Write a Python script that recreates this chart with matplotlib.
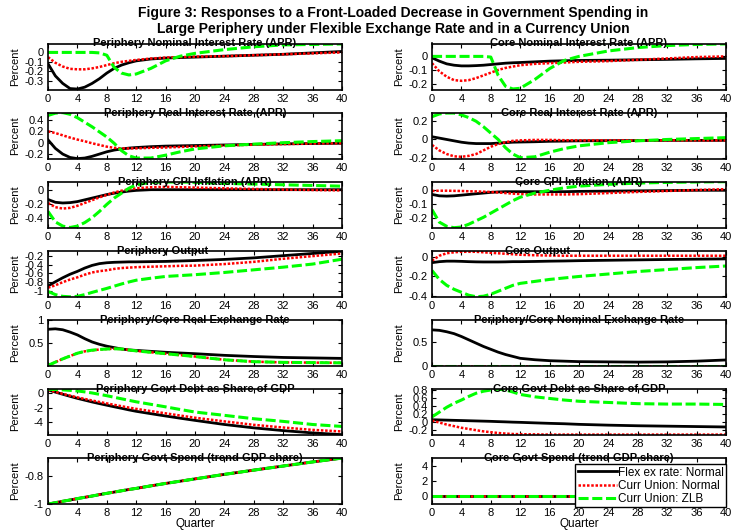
import matplotlib
matplotlib.use("Agg")
import matplotlib.pyplot as plt
from matplotlib.ticker import FuncFormatter

plt.rcParams['font.family'] = ['Liberation Sans', 'DejaVu Sans']
plt.rcParams['axes.unicode_minus'] = False

quarters = [0, 1, 2, 3, 4, 5, 6, 7, 8, 9, 10, 11, 12, 14, 16, 18, 20, 24, 28, 32, 36, 40]

# Periphery nominal interest rate
per_nom_flex = [-0.12, -0.25, -0.33, -0.385, -0.39, -0.37, -0.33, -0.28, -0.22, -0.17, -0.135, -0.11, -0.09, -0.07, -0.06, -0.055, -0.05, -0.04, -0.03, -0.02, -0.005, 0.01]
per_nom_cu = [-0.05, -0.11, -0.15, -0.175, -0.18, -0.18, -0.17, -0.155, -0.135, -0.115, -0.1, -0.09, -0.08, -0.065, -0.055, -0.05, -0.045, -0.04, -0.03, -0.02, -0.01, 0.0]
per_nom_zlb = [0, 0, 0, 0, 0, 0, 0, -0.005, -0.03, -0.16, -0.22, -0.24, -0.23, -0.17, -0.09, -0.04, -0.01, 0.03, 0.06, 0.08, 0.085, 0.09]

# Core nominal interest rate
core_nom_flex = [-0.01, -0.035, -0.055, -0.065, -0.07, -0.07, -0.068, -0.065, -0.06, -0.055, -0.05, -0.047, -0.045, -0.04, -0.035, -0.032, -0.03, -0.028, -0.025, -0.022, -0.018, -0.015]
core_nom_cu = [-0.05, -0.11, -0.15, -0.175, -0.18, -0.175, -0.16, -0.14, -0.12, -0.1, -0.085, -0.075, -0.065, -0.055, -0.05, -0.045, -0.04, -0.035, -0.025, -0.015, -0.005, 0.0]
core_nom_zlb = [0, 0, 0, 0, 0, 0, 0, 0, -0.005, -0.14, -0.22, -0.24, -0.235, -0.17, -0.09, -0.03, 0.0, 0.04, 0.065, 0.08, 0.088, 0.092]

# Periphery real interest rate
per_real_flex = [0.05, -0.1, -0.2, -0.26, -0.28, -0.27, -0.24, -0.2, -0.16, -0.13, -0.11, -0.095, -0.085, -0.07, -0.06, -0.055, -0.05, -0.04, -0.03, -0.02, -0.015, -0.01]
per_real_cu = [0.2, 0.17, 0.13, 0.09, 0.055, 0.025, -0.01, -0.04, -0.07, -0.09, -0.1, -0.1, -0.1, -0.09, -0.085, -0.075, -0.065, -0.05, -0.035, -0.025, -0.015, -0.01]
per_real_zlb = [0.48, 0.52, 0.53, 0.5, 0.44, 0.36, 0.28, 0.19, 0.1, -0.01, -0.14, -0.23, -0.27, -0.27, -0.22, -0.16, -0.11, -0.055, -0.025, 0.0, 0.02, 0.035]

# Core real interest rate
core_real_flex = [0.03, 0.015, 0.0, -0.015, -0.03, -0.04, -0.045, -0.045, -0.045, -0.04, -0.035, -0.03, -0.028, -0.025, -0.02, -0.018, -0.015, -0.013, -0.012, -0.01, -0.01, -0.01]
core_real_cu = [-0.06, -0.12, -0.16, -0.185, -0.19, -0.18, -0.16, -0.12, -0.08, -0.05, -0.03, -0.015, -0.01, -0.005, -0.005, -0.008, -0.01, -0.01, -0.01, -0.01, -0.01, -0.01]
core_real_zlb = [0.25, 0.28, 0.29, 0.29, 0.27, 0.24, 0.2, 0.14, 0.07, 0.0, -0.09, -0.16, -0.2, -0.19, -0.14, -0.1, -0.07, -0.035, -0.015, 0.0, 0.01, 0.02]

# Periphery CPI inflation
per_cpi_flex = [-0.13, -0.17, -0.18, -0.175, -0.16, -0.135, -0.11, -0.085, -0.06, -0.04, -0.025, -0.01, 0.0, 0.01, 0.01, 0.01, 0.01, 0.01, 0.01, 0.01, 0.01, 0.01]
per_cpi_cu = [-0.18, -0.24, -0.26, -0.25, -0.22, -0.18, -0.14, -0.1, -0.065, -0.03, -0.005, 0.015, 0.03, 0.045, 0.05, 0.045, 0.04, 0.03, 0.02, 0.012, 0.005, 0.0]
per_cpi_zlb = [-0.3, -0.45, -0.51, -0.53, -0.51, -0.46, -0.39, -0.3, -0.2, -0.11, -0.04, 0.03, 0.08, 0.115, 0.12, 0.12, 0.115, 0.1, 0.09, 0.08, 0.07, 0.06]

# Core CPI inflation
core_cpi_flex = [-0.03, -0.04, -0.042, -0.04, -0.035, -0.03, -0.025, -0.02, -0.015, -0.012, -0.01, -0.01, -0.01, -0.01, -0.01, -0.01, -0.008, -0.006, -0.004, -0.002, 0.0, 0.0]
core_cpi_cu = [-0.005, -0.003, -0.003, -0.004, -0.005, -0.007, -0.008, -0.01, -0.012, -0.016, -0.02, -0.024, -0.027, -0.03, -0.03, -0.03, -0.028, -0.02, -0.012, -0.005, 0.002, 0.008]
core_cpi_zlb = [-0.14, -0.23, -0.26, -0.27, -0.265, -0.245, -0.22, -0.195, -0.165, -0.135, -0.105, -0.075, -0.05, -0.02, 0.0, 0.018, 0.03, 0.043, 0.052, 0.057, 0.06, 0.062]

# Periphery output
per_out_flex = [-0.885, -0.79, -0.7, -0.62, -0.555, -0.48, -0.42, -0.38, -0.36, -0.35, -0.345, -0.34, -0.34, -0.335, -0.33, -0.32, -0.31, -0.285, -0.25, -0.2, -0.15, -0.1]
per_out_cu = [-0.925, -0.87, -0.8, -0.74, -0.69, -0.63, -0.58, -0.55, -0.53, -0.5, -0.48, -0.47, -0.46, -0.45, -0.44, -0.43, -0.425, -0.39, -0.34, -0.27, -0.21, -0.15]
per_out_zlb = [-1.01, -1.08, -1.12, -1.13, -1.12, -1.08, -1.03, -0.985, -0.94, -0.89, -0.84, -0.795, -0.755, -0.71, -0.67, -0.65, -0.63, -0.58, -0.52, -0.46, -0.39, -0.28]

# Core output
core_out_flex = [-0.06, -0.05, -0.045, -0.045, -0.047, -0.05, -0.052, -0.053, -0.053, -0.053, -0.052, -0.05, -0.05, -0.048, -0.045, -0.043, -0.04, -0.036, -0.032, -0.028, -0.025, -0.022]
core_out_cu = [-0.04, 0.01, 0.035, 0.045, 0.05, 0.05, 0.05, 0.045, 0.04, 0.035, 0.03, 0.025, 0.02, 0.015, 0.012, 0.01, 0.01, 0.01, 0.01, 0.01, 0.01, 0.01]
core_out_zlb = [-0.14, -0.23, -0.29, -0.33, -0.36, -0.39, -0.405, -0.4, -0.38, -0.35, -0.32, -0.29, -0.27, -0.25, -0.23, -0.215, -0.2, -0.175, -0.15, -0.13, -0.11, -0.094]

# Periphery/Core real exchange rate
rer_flex = [0.8, 0.81, 0.79, 0.74, 0.68, 0.6, 0.53, 0.48, 0.44, 0.41, 0.38, 0.36, 0.35, 0.33, 0.31, 0.295, 0.28, 0.245, 0.22, 0.2, 0.19, 0.18]
rer_cu = [0.03, 0.1, 0.17, 0.23, 0.29, 0.33, 0.35, 0.37, 0.38, 0.385, 0.38, 0.36, 0.34, 0.31, 0.28, 0.25, 0.22, 0.15, 0.11, 0.095, 0.09, 0.085]
rer_zlb = [0.03, 0.1, 0.17, 0.23, 0.29, 0.33, 0.355, 0.37, 0.38, 0.385, 0.38, 0.36, 0.34, 0.31, 0.28, 0.25, 0.22, 0.15, 0.11, 0.095, 0.09, 0.085]

# Periphery/Core nominal exchange rate
ner_flex = [0.76, 0.75, 0.72, 0.68, 0.62, 0.55, 0.48, 0.41, 0.35, 0.29, 0.24, 0.2, 0.16, 0.13, 0.11, 0.1, 0.09, 0.085, 0.08, 0.085, 0.1, 0.125]
ner_cu = [0] * 22
ner_zlb = [0] * 22

# Periphery govt debt as share of GDP
per_debt_flex = [0.47, 0.17, -0.13, -0.42, -0.7, -0.95, -1.2, -1.43, -1.65, -1.87, -2.08, -2.3, -2.5, -2.83, -3.15, -3.46, -3.76, -4.33, -4.8, -5.18, -5.5, -5.74]
per_debt_cu = [0.47, 0.2, -0.07, -0.32, -0.56, -0.78, -1.0, -1.2, -1.4, -1.6, -1.79, -1.98, -2.16, -2.47, -2.78, -3.09, -3.39, -3.9, -4.38, -4.75, -5.08, -5.3]
per_debt_zlb = [0.56, 0.53, 0.48, 0.41, 0.33, 0.2, 0.05, -0.14, -0.33, -0.55, -0.76, -0.97, -1.18, -1.53, -1.88, -2.25, -2.6, -3.06, -3.53, -3.9, -4.33, -4.6]

# Core govt debt as share of GDP
core_debt_flex = [0.06, 0.055, 0.05, 0.045, 0.04, 0.035, 0.03, 0.025, 0.02, 0.013, 0.007, 0.0, -0.005, -0.018, -0.03, -0.04, -0.055, -0.075, -0.09, -0.1, -0.11, -0.12]
core_debt_cu = [0.04, -0.01, -0.06, -0.1, -0.14, -0.17, -0.2, -0.23, -0.25, -0.27, -0.285, -0.295, -0.3, -0.305, -0.31, -0.31, -0.31, -0.31, -0.31, -0.31, -0.31, -0.31]
core_debt_zlb = [0.13, 0.25, 0.37, 0.47, 0.55, 0.64, 0.72, 0.77, 0.8, 0.82, 0.8, 0.75, 0.69, 0.63, 0.59, 0.55, 0.52, 0.49, 0.46, 0.45, 0.45, 0.44]

# Govt spending (identical across regimes)
per_g = [-1.0, -0.99, -0.98, -0.971, -0.961, -0.952, -0.943, -0.933, -0.924, -0.915, -0.906, -0.897, -0.889, -0.871, -0.854, -0.838, -0.822, -0.79, -0.76, -0.731, -0.702, -0.675]
core_g = [0] * 22

# title, flex, curr union, zlb, ylim, yticks, title x-position
panels = [
    ("Periphery Nominal Interest Rate (APR)", per_nom_flex, per_nom_cu, per_nom_zlb, (-0.395, 0.095), [-0.3, -0.2, -0.1, 0], 0.5),
    ("Core Nominal Interest Rate (APR)", core_nom_flex, core_nom_cu, core_nom_zlb, (-0.244, 0.095), [-0.2, -0.1, 0], 0.5),
    ("Periphery Real Interest Rate (APR)", per_real_flex, per_real_cu, per_real_zlb, (-0.28, 0.53), [-0.2, 0, 0.2, 0.4], 0.5),
    ("Core Real Interest Rate (APR)", core_real_flex, core_real_cu, core_real_zlb, (-0.21, 0.295), [-0.2, 0, 0.2], 0.5),
    ("Periphery CPI Inflation (APR)", per_cpi_flex, per_cpi_cu, per_cpi_zlb, (-0.533, 0.124), [-0.4, -0.2, 0], 0.5),
    ("Core CPI Inflation (APR)", core_cpi_flex, core_cpi_cu, core_cpi_zlb, (-0.27, 0.062), [-0.2, -0.1, 0], 0.5),
    ("Periphery Output", per_out_flex, per_out_cu, per_out_zlb, (-1.13, -0.09), [-1, -0.8, -0.6, -0.4, -0.2], 0.39),
    ("Core Output", core_out_flex, core_out_cu, core_out_zlb, (-0.406, 0.06), [-0.4, -0.2, 0], 0.36),
    ("Periphery/Core Real Exchange Rate", rer_flex, rer_cu, rer_zlb, (0.02, 1.0), [0.5, 1], 0.5),
    ("Periphery/Core Nominal Exchange Rate", ner_flex, ner_cu, ner_zlb, (0, 0.97), [0, 0.5], 0.5),
    ("Periphery Govt Debt as Share of GDP", per_debt_flex, per_debt_cu, per_debt_zlb, (-5.79, 0.6), [-4, -2, 0], 0.5),
    ("Core Govt Debt as Share of GDP", core_debt_flex, core_debt_cu, core_debt_zlb, (-0.32, 0.825), [-0.2, 0, 0.2, 0.4, 0.6, 0.8], 0.5),
    ("Periphery Govt Spend (trend GDP share)", per_g, per_g, per_g, (-1.0, -0.675), [-1, -0.8], 0.5),
    ("Core Govt Spend (trend GDP share)", core_g, core_g, core_g, (-1, 5), [0, 2, 4], 0.5),
]

W, H = 735, 530
fig = plt.figure(figsize=(W / 100, H / 100), dpi=100)
fig.patch.set_facecolor('white')

fig.text(0.535, 1 - 21 / H,
         "Figure 3: Responses to a Front-Loaded Decrease in Government Spending in\n"
         "Large Periphery under Flexible Exchange Rate and in a Currency Union",
         ha='center', va='center', fontsize=10, fontweight='bold', linespacing=1.15)

col_left = [48, 432]
axes = []
for i, (title, flex, cu, zlb, ylim, yticks, tx) in enumerate(panels):
    row, col = divmod(i, 2)
    top = 43.5 + 69.1 * row
    ax = fig.add_axes([col_left[col] / W, 1 - (top + 46) / H, 294 / W, 46 / H])
    l1, = ax.plot(quarters, flex, color='black', lw=2.0, label='Flex ex rate: Normal')
    l2, = ax.plot(quarters, cu, color='#ff0000', lw=1.8, linestyle=(0, (1, 0.7)),
                  label='Curr Union: Normal')
    l3, = ax.plot(quarters, zlb, color='#00ff00', lw=2.2, linestyle=(0, (3.3, 1.2)),
                  label='Curr Union: ZLB')
    ax.set_xlim(0, 40)
    ax.set_xticks(range(0, 41, 4))
    ax.set_ylim(*ylim)
    ax.set_yticks(yticks)
    ax.yaxis.set_major_formatter(FuncFormatter(lambda v, _: f'{v:g}'))
    ax.tick_params(direction='in', top=True, right=True, length=3, width=0.8,
                   labelsize=8, pad=3)
    for s in ax.spines.values():
        s.set_linewidth(1.2)
    ax.set_title(title, fontsize=8, fontweight='bold', x=tx, y=1.0, pad=0, va='center')
    ax.set_ylabel('Percent', fontsize=8)
    ax.yaxis.set_label_coords(-0.095, 0.5)
    if row == 6:
        ax.set_xlabel('Quarter', fontsize=8.5, labelpad=0)
    axes.append(ax)

leg = axes[-1].legend(handles=[l1, l2, l3], loc='lower right', bbox_to_anchor=(1.0, -0.07),
                      fontsize=8.5, handlelength=3.3, handletextpad=0.1, borderpad=0.2,
                      labelspacing=0.1, borderaxespad=0, fancybox=False,
                      edgecolor='black', framealpha=1)
leg.get_frame().set_linewidth(1.0)

fig.savefig('out.png', dpi=100)
